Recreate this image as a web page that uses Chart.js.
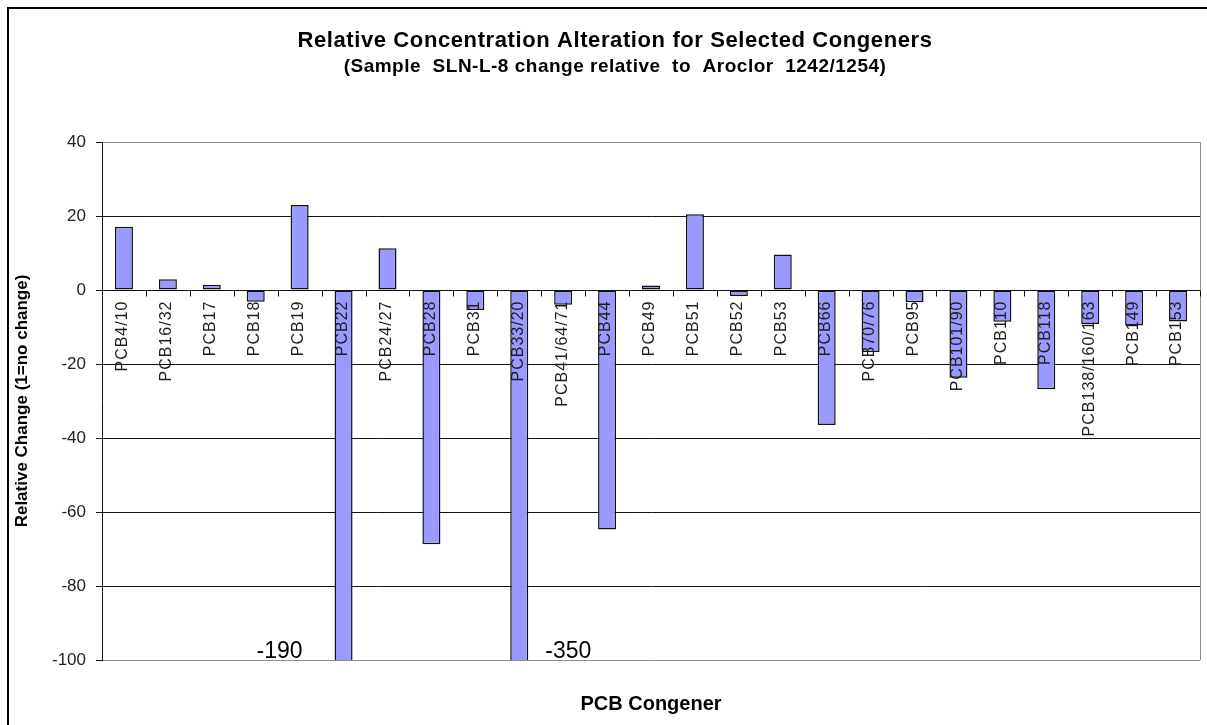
<!DOCTYPE html>
<html>
<head>
<meta charset="utf-8">
<title>Relative Concentration Alteration for Selected Congeners</title>
<script src="https://cdn.jsdelivr.net/npm/chart.js@4/dist/chart.umd.min.js"></script>
<style>
    html, body { margin: 0; padding: 0; background: #fff; }
    canvas { display: block; }
</style>
</head>
<body>
<canvas id="congenerChart" width="1207" height="725"></canvas>
<script>
const congeners = [
    'PCB4/10', 'PCB16/32', 'PCB17', 'PCB18', 'PCB19', 'PCB22', 'PCB24/27', 'PCB28',
    'PCB31', 'PCB33/20', 'PCB41/64/71', 'PCB44', 'PCB49', 'PCB51', 'PCB52', 'PCB53',
    'PCB66', 'PCB70/76', 'PCB95', 'PCB101/90', 'PCB110', 'PCB118', 'PCB138/160/163',
    'PCB149', 'PCB153'
];
const relativeChange = [
    17.1, 2.9, 1.4, -3.2, 23.0, -190, 11.3, -68.7,
    -5.4, -350, -4.0, -64.7, 1.2, 20.5, -1.6, 9.6,
    -36.5, -16.8, -3.3, -23.7, -8.6, -26.8, -9.2,
    -9.6, -8.5
];
const yTicks = [40, 20, 0, -20, -40, -60, -80, -100];

const chartTitle = 'Relative Concentration Alteration for Selected Congeners';
const chartSubtitle = '(Sample  SLN-L-8 change relative  to  Aroclor  1242/1254)';
const yAxisTitle = 'Relative Change (1=no change)';
const xAxisTitle = 'PCB Congener';

const FONT = "'Liberation Sans', Arial, sans-serif";

// frame, titles, zero-line ticks, rotated category names, off-scale values
const decorPlugin = {
    id: 'decor',
    beforeDraw(chart) {
        const ctx = chart.ctx;
        ctx.save();
        ctx.fillStyle = '#fff';
        ctx.fillRect(0, 0, chart.width, chart.height);
        ctx.strokeStyle = '#000';
        ctx.lineWidth = 2;
        ctx.beginPath();
        ctx.moveTo(8, chart.height);
        ctx.lineTo(8, 8);
        ctx.lineTo(chart.width, 8);
        ctx.stroke();
        ctx.restore();
    },
    afterDatasetsDraw(chart) {
        const { ctx, chartArea, scales: { x, y } } = chart;
        const zero = Math.round(y.getPixelForValue(0)) + 0.5;

        ctx.save();
        // right edge of the plot area
        ctx.strokeStyle = '#8c8c8c';
        ctx.lineWidth = 1;
        ctx.beginPath();
        ctx.moveTo(Math.round(chartArea.right) + 0.5, chartArea.top);
        ctx.lineTo(Math.round(chartArea.right) + 0.5, chartArea.bottom);
        ctx.stroke();

        // category axis sits on zero
        ctx.strokeStyle = '#111';
        ctx.beginPath();
        ctx.moveTo(chartArea.left, zero);
        ctx.lineTo(chartArea.right, zero);
        for (let i = 0; i <= congeners.length; i++) {
            const px = Math.round(x.getPixelForValue(i - 0.5)) + 0.5;
            ctx.moveTo(px, zero);
            ctx.lineTo(px, zero + 6);
        }
        ctx.stroke();

        // category names, rotated, hanging under the zero line
        ctx.font = `16px ${FONT}`;
        ctx.letterSpacing = '1px';
        ctx.fillStyle = '#1e1e1e';
        ctx.textAlign = 'right';
        ctx.textBaseline = 'middle';
        congeners.forEach((name, i) => {
            ctx.save();
            ctx.translate(x.getPixelForValue(i) - 1, zero + 10);
            ctx.rotate(-Math.PI / 2);
            ctx.fillText(name, 0, 0);
            ctx.restore();
        });
        ctx.letterSpacing = '0px';

        // values that run off the bottom of the axis
        ctx.font = `23px ${FONT}`;
        ctx.fillStyle = '#000';
        ctx.textBaseline = 'alphabetic';
        let offCount = 0;
        relativeChange.forEach((v, i) => {
            if (v >= y.min) return;
            const px = x.getPixelForValue(i);
            if (offCount % 2 === 0) {
                ctx.textAlign = 'right';
                ctx.fillText(String(v), px - 41, chartArea.bottom - 2);
            } else {
                ctx.textAlign = 'left';
                ctx.fillText(String(v), px + 26, chartArea.bottom - 2);
            }
            offCount++;
        });
        ctx.restore();
    },
    afterDraw(chart) {
        const { ctx, chartArea } = chart;
        const midX = (chartArea.left + chartArea.right) / 2;
        ctx.save();
        ctx.fillStyle = '#000';
        ctx.textAlign = 'center';
        ctx.textBaseline = 'middle';

        ctx.font = `bold 22px ${FONT}`;
        ctx.letterSpacing = '0.6px';
        ctx.fillText(chartTitle, 615, 41);
        ctx.font = `bold 19px ${FONT}`;
        ctx.letterSpacing = '0.5px';
        ctx.fillText(chartSubtitle, 615, 67);
        ctx.letterSpacing = '0px';

        ctx.font = `bold 20px ${FONT}`;
        ctx.fillText(xAxisTitle, midX, 704);

        ctx.font = `bold 17px ${FONT}`;
        ctx.translate(22, (chartArea.top + chartArea.bottom) / 2);
        ctx.rotate(-Math.PI / 2);
        ctx.fillText(yAxisTitle, 0, 0);
        ctx.restore();
    }
};

const ctx = document.getElementById('congenerChart').getContext('2d');
new Chart(ctx, {
    type: 'bar',
    data: {
        labels: congeners,
        datasets: [{
            label: 'Relative Change',
            data: relativeChange,
            backgroundColor: '#9999ff',
            borderColor: '#111',
            borderWidth: 1.5,
            borderSkipped: false,
            categoryPercentage: 1,
            barPercentage: 0.41
        }]
    },
    options: {
        responsive: false,
        animation: false,
        devicePixelRatio: 1,
        layout: {
            padding: { top: 142, left: 0, right: 7, bottom: 65 }
        },
        scales: {
            x: {
                display: false
            },
            y: {
                min: Math.min(...yTicks),
                max: Math.max(...yTicks),
                afterFit: scale => { scale.width = 102; },
                ticks: {
                    stepSize: yTicks[0] - yTicks[1],
                    color: '#222',
                    padding: 10,
                    font: { family: FONT, size: 17 }
                },
                grid: {
                    color: c => (c.tick && (c.tick.value === yTicks[0] || c.tick.value === yTicks[yTicks.length - 1])) ? '#8c8c8c' : '#111',
                    tickColor: '#111',
                    tickLength: 6
                },
                border: { color: '#111', width: 1 }
            }
        },
        plugins: {
            legend: { display: false },
            title: { display: false },
            tooltip: { enabled: false }
        }
    },
    plugins: [decorPlugin]
});
</script>
</body>
</html>
